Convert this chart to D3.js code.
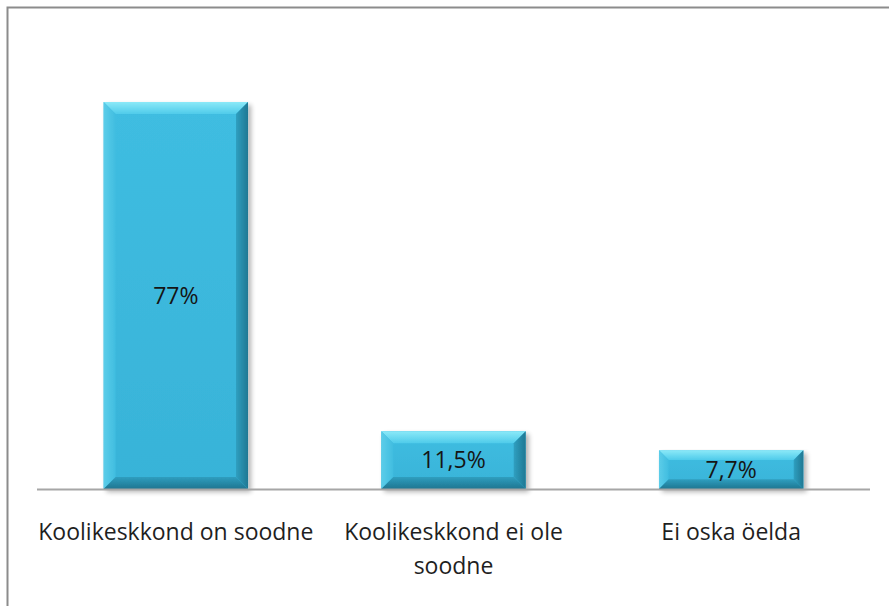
<!DOCTYPE html>
<html lang="et">
<head>
<meta charset="UTF-8">
<title>Koolikeskkond</title>
<script src="https://cdnjs.cloudflare.com/ajax/libs/d3/7.8.5/d3.min.js"></script>
<style>
  body { margin: 0; background: #fff; }
  text { font-family: "Open Sans", "Noto Sans", sans-serif; }
</style>
</head>
<body>
<div id="chart"></div>
<script>
// andmed
const categories = ["Koolikeskkond on soodne", "Koolikeskkond ei ole soodne", "Ei oska öelda"];
const values = [77, 11.5, 7.7];
const valueLabels = ["77%", "11,5%", "7,7%"];
// kategooriate read (murtud nagu originaalis)
const catLines = [["Koolikeskkond on soodne"], ["Koolikeskkond ei ole", "soodne"], ["Ei oska öelda"]];

const W = 889, H = 606;
const svg = d3.select("#chart").append("svg")
  .attr("width", W).attr("height", H);

// raam
svg.append("rect")
  .attr("x", 7.5).attr("y", 7.5)
  .attr("width", W + 10).attr("height", H + 10)
  .attr("fill", "none").attr("stroke", "#8c8c8c").attr("stroke-width", 2);

const x = d3.scaleBand().domain(categories).range([37, 870]).paddingInner(0.48).paddingOuter(0.24);
const y = d3.scaleLinear().domain([0, 80]).range([489, 87]);

const defs = svg.append("defs");
const sh = defs.append("filter").attr("id", "shadow").attr("x", "-10%").attr("y", "-10%").attr("width", "130%").attr("height", "130%");
sh.append("feGaussianBlur").attr("in", "SourceAlpha").attr("stdDeviation", 2.5);
sh.append("feOffset").attr("dx", 3).attr("dy", 3).attr("result", "b");
sh.append("feComponentTransfer").append("feFuncA").attr("type", "linear").attr("slope", 0.3);
const m = sh.append("feMerge");
m.append("feMergeNode");
m.append("feMergeNode").attr("in", "SourceGraphic");

function grad(id, x2, y2, stops) {
  const g = defs.append("linearGradient").attr("id", id)
    .attr("x1", 0).attr("y1", 0).attr("x2", x2).attr("y2", y2);
  stops.forEach(s => g.append("stop").attr("offset", s[0]).attr("stop-color", s[1]));
}
grad("gTop", 0, 1, [[0, "#8be9f8"], [1, "#4fcbea"]]);
grad("gLeft", 1, 0, [[0, "#5ccde9"], [1, "#40bde0"]]);
grad("gRight", 1, 0, [[0, "#2f9fc0"], [1, "#1f7893"]]);
grad("gBottom", 0, 1, [[0, "#2f9ebf"], [1, "#1e7590"]]);
grad("gFace", 0, 1, [[0, "#3fbde1"], [1, "#38b3d8"]]);

const data = categories.map((c, i) => ({ c, v: values[i], lab: valueLabels[i], lines: catLines[i] }));
const bev = 12;

const bars = svg.selectAll("g.bar").data(data).join("g").attr("class", "bar")
  .attr("filter", "url(#shadow)");

bars.each(function (d) {
  const g = d3.select(this);
  const x0 = x(d.c), x1 = x0 + x.bandwidth();
  const y0 = y(d.v), y1 = y(0);
  const b = Math.min(bev, (y1 - y0) / 4);
  g.append("rect").attr("x", x0).attr("y", y0).attr("width", x1 - x0).attr("height", y1 - y0).attr("fill", "url(#gFace)");
  const poly = (pts, fill) => g.append("polygon").attr("points", pts.map(p => p.join(",")).join(" ")).attr("fill", fill);
  poly([[x0, y0], [x1, y0], [x1 - b, y0 + b], [x0 + b, y0 + b]], "url(#gTop)");
  poly([[x0, y0], [x0 + b, y0 + b], [x0 + b, y1 - b], [x0, y1]], "url(#gLeft)");
  poly([[x1, y0], [x1, y1], [x1 - b, y1 - b], [x1 - b, y0 + b]], "url(#gRight)");
  poly([[x0, y1], [x0 + b, y1 - b], [x1 - b, y1 - b], [x1, y1]], "url(#gBottom)");
});

// väärtused
svg.selectAll("text.val").data(data).join("text").attr("class", "val")
  .attr("x", d => x(d.c) + x.bandwidth() / 2)
  .attr("y", d => (y(d.v) + y(0)) / 2 + 8)
  .attr("text-anchor", "middle")
  .attr("font-size", 23)
  .attr("fill", "#151515")
  .text(d => d.lab);

// x-telg
svg.append("line").attr("x1", 37).attr("x2", 870).attr("y1", 489.5).attr("y2", 489.5)
  .attr("stroke", "#a6a6a6").attr("stroke-width", 2);

const cat = svg.selectAll("text.cat").data(data).join("text").attr("class", "cat")
  .attr("x", d => x(d.c) + x.bandwidth() / 2)
  .attr("y", 540)
  .attr("text-anchor", "middle")
  .attr("font-size", 23)
  .attr("fill", "#1f1f1f");
cat.selectAll("tspan").data(d => d.lines).join("tspan")
  .attr("x", function () { return d3.select(this.parentNode).attr("x"); })
  .attr("dy", (l, i) => i === 0 ? 0 : 34)
  .text(l => l);
</script>
</body>
</html>
